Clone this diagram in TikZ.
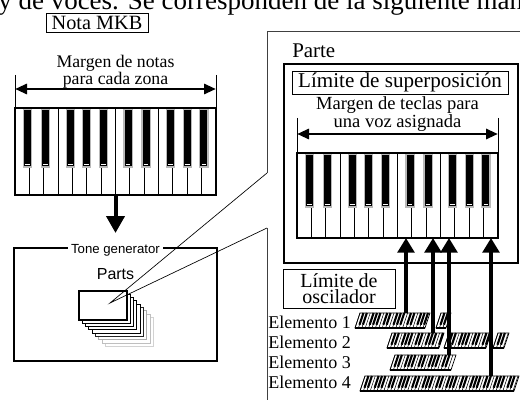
\documentclass[tikz,border=0pt]{standalone}
\usepackage{fontspec}
\setmainfont{Liberation Serif}
\setsansfont{Liberation Sans}
\usetikzlibrary{arrows.meta,positioning,calc}

\begin{document}
\begin{tikzpicture}[
  x=0.75pt, y=-0.75pt,
  frame/.style={draw, line width=0.9pt},
  tag/.style={draw, line width=0.6pt, inner sep=0pt},
  dimarrow/.style={{Triangle[width=7.5pt,length=9pt]}-{Triangle[width=7.5pt,length=9pt]}, line width=2.2pt},
  bigarrow/.style={-{Triangle[width=13.5pt,length=12.75pt]}, line width=3pt},
  uparrow/.style={-{Triangle[width=12.5pt,length=11pt]}, line width=3pt},
  card/.style={draw, fill=white, line width=0.7pt},
  pics/keyboard/.style n args={2}{code={
    \draw[line width=1pt] (0,0) rectangle (201,#1);
    \foreach \i in {1,...,13} \draw[line width=0.7pt] ({\i*201/14},0) -- ({\i*201/14},#1);
    \foreach \i/\d in {1/-1.8,2/1.8,4/-2.2,5/0,6/2.2,8/-1.8,9/1.8,11/-2.2,12/0,13/2.2}{
      \draw[fill=black, draw=gray!55, line width=0.9pt] ({\i*201/14+\d-4.1},1.8) rectangle ({\i*201/14+\d+4.1},#2);
      \draw[white, line width=0.6pt] ({\i*201/14+\d-2.3},#2-3) -- ++(4.6,0);
    }
  }},
  pics/elembar/.style={code={
    \pgfmathtruncatemacro\nk{#1/3.4}
    \foreach \k in {0,...,\nk} \draw[line width=0.4pt] ({\k*3.4},0) -- ++(5,-15);
    \foreach \k in {1,...,\nk}{
      \pgfmathtruncatemacro\m{mod(\k,7)}
      \ifnum\m=3\relax\else\ifnum\m=0\relax\else
        \draw[line width=1.6pt] ({\k*3.4+1.1},-3.3) -- ({\k*3.4+5},-15);
      \fi\fi
    }
    \draw[line width=0.5pt] (0,0) -- (#1,0) -- ++(5,-15) -- (5,-15) -- cycle;
    \draw[line width=1.4pt] (0,0) -- (#1,0);
  }},
]
\useasboundingbox (0,0) rectangle (520,399);
\clip (0,0) rectangle (520,399);

% Running text above
\node[anchor=base west, inner sep=0pt, font=\fontsize{20.25}{22}\selectfont] (intro) at (-2,10) {y de voces. Se corresponden de la siguiente manera};

% MKB side
\node[tag, minimum width=76.5pt, minimum height=14.5pt, font=\fontsize{15.2}{16}\selectfont] (mkb) at (97,23) {Nota MKB};
\node[align=center, inner sep=0pt, font=\fontsize{13.3}{11.5}\selectfont] (zonerange) at (115.5,72) {Margen de notas\\para cada zona};
\draw[line width=0.6pt] (15,75) -- (15,108);
\draw[line width=0.6pt] (216,75) -- (216,108);
\coordinate (zoneL) at (15,89);
\coordinate (zoneR) at (216,89);
\draw[dimarrow] (zoneL) -- (zoneR);
\pic at (15,108) {keyboard={87}{59}};
\coordinate (kbLbot) at (115.5,195);
\coordinate (tgtop) at (115.5,233);
\draw[bigarrow] (kbLbot) -- (tgtop);

% Tone generator
\draw[line width=0.8pt] (14,248) rectangle (217,361);
\node[fill=white, inner xsep=2.3pt, inner ysep=1pt, font=\sffamily\fontsize{9.9}{10}\selectfont] (tg) at (115.5,250.5) {Tone generator};
\node[inner sep=0pt, font=\sffamily\fontsize{12}{13}\selectfont] (parts) at (115.5,274) {Parts};
\foreach \i/\c in {8/gray!35,7/gray!50,6/gray!65,5/black!85,4/black,3/black,2/black,1/black}
  \draw[card, draw=\c] ({79+\i*3.3},{291+\i*3.3}) rectangle +(48,29);
\draw[card, line width=1pt] (79,291) rectangle +(48,29);

% Zoom wedge
\coordinate (focus) at (110,303);
\coordinate (wedgeA) at (267,173);
\coordinate (wedgeB) at (267,228);
\draw[line width=0.5pt] (wedgeA) -- (focus) -- (wedgeB);
\draw[line width=0.7pt, black!75] (wedgeA) -- (267,31) -- (530,31);
\draw[line width=0.7pt, black!75] (wedgeB) -- (267,410);

% Part
\node[anchor=base west, inner sep=0pt, font=\fontsize{15.7}{16}\selectfont] (parte) at (292,58) {Parte};
\draw[frame] (284,64) rectangle (518,263);
\node[tag, minimum width=162pt, minimum height=17.25pt, font=\fontsize{15.8}{16}\selectfont] (overlap) at (400,82.5) {Límite de superposición};
\node[align=center, inner sep=0pt, font=\fontsize{13.9}{11.3}\selectfont] (voicerange) at (397.5,114) {Margen de teclas para\\una voz asignada};
\draw[line width=0.6pt] (297,118) -- (297,153);
\draw[line width=0.6pt] (498,118) -- (498,153);
\coordinate (voiceL) at (297,134);
\coordinate (voiceR) at (498,134);
\draw[dimarrow] (voiceL) -- (voiceR);
\pic at (297,153) {keyboard={85}{54}};
\coordinate (kbRbot) at (397.5,238);

% Oscillator limit
\draw[line width=0.6pt] (283,269) rectangle (395,308);
\node[align=center, inner sep=0pt, font=\fontsize{15}{12.2}\selectfont] (osc) at (339,288.5) {Límite de\\oscilador};

% Elements
\node[anchor=base west, inner sep=0pt, font=\fontsize{13.5}{14}\selectfont] (el1) at (268,328) {Elemento 1};
\node[anchor=base west, inner sep=0pt, font=\fontsize{13.5}{14}\selectfont] (el2) at (268,348) {Elemento 2};
\node[anchor=base west, inner sep=0pt, font=\fontsize{13.5}{14}\selectfont] (el3) at (268,368) {Elemento 3};
\node[anchor=base west, inner sep=0pt, font=\fontsize{13.5}{14}\selectfont] (el4) at (268,388) {Elemento 4};
\pic at (355,328) {elembar=70};
\pic at (436,328) {elembar=10};
\pic at (387,348) {elembar=52};
\pic at (444,348) {elembar=42};
\pic at (493,348) {elembar=11};
\pic at (390,370) {elembar=61};
\pic at (360,391) {elembar=154};

\coordinate (e1top) at (406,313);
\coordinate (e2top) at (433,333);
\coordinate (e3top) at (449,355);
\coordinate (e4top) at (491,376);
\draw[uparrow] (e1top) -- (e1top |- kbRbot);
\draw[uparrow] (e2top) -- (e2top |- kbRbot);
\draw[uparrow] (e3top) -- (e3top |- kbRbot);
\draw[uparrow] (e4top) -- (e4top |- kbRbot);

\end{tikzpicture}
\end{document}
